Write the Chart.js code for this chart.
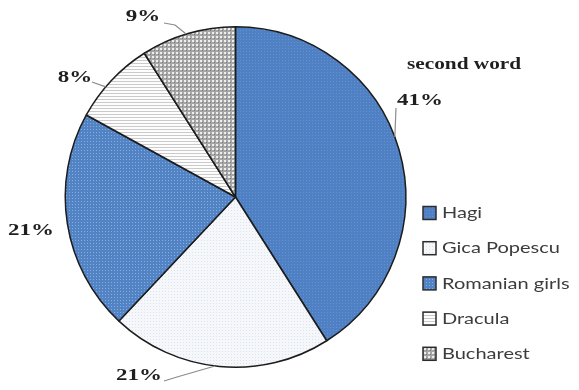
<!DOCTYPE html>
<html>
<head>
<meta charset="utf-8">
<script src="https://cdn.jsdelivr.net/npm/chart.js@4"></script>
<style>
  html, body { margin: 0; padding: 0; background: #fff; }
  #wrap { width: 579px; height: 390px; }
</style>
</head>
<body>
<div id="wrap"><canvas id="chart" width="579" height="390"></canvas></div>
<script>
// answers for the second word
const categories = ['Hagi', 'Gica Popescu', 'Romanian girls', 'Dracula', 'Bucharest'];
const shares = [41, 21, 21, 8, 9];
const chartTitle = 'second word';

// small tile patterns, one per slice
function tile(size, paint) {
    const c = document.createElement('canvas');
    c.width = size; c.height = size;
    const g = c.getContext('2d');
    paint(g, size);
    return g.createPattern(c, 'repeat');
}
const dots = (bg, fg, step, dot) => tile(step, (g, s) => {
    g.fillStyle = bg; g.fillRect(0, 0, s, s);
    g.fillStyle = fg; g.fillRect(0, 0, dot, dot);
});
const fills = [
    dots('#4f80c3', '#6593d0', 3, 1),
    dots('#f5f7fb', '#dde3ec', 3, 1),
    dots('#5284c5', '#8aacdc', 3, 1),
    tile(3, (g, s) => { g.fillStyle = '#fdfdfd'; g.fillRect(0, 0, s, s); g.fillStyle = '#cacaca'; g.fillRect(0, 0, s, 1); }),
    tile(4, (g, s) => {
        g.fillStyle = '#a6a6a6'; g.fillRect(0, 0, s, s);
        g.fillStyle = '#eeeeee'; g.fillRect(0, 0, 2, 2);
        g.fillStyle = '#7a7a7a'; g.fillRect(2, 2, 1, 1);
    })
];

// where each percentage sits, and which part of its slice the leader touches
const labelSpots = [
    { x: 420, y: 101, along: 0.47, lead: [[396, 108]] },
    { x: 139, y: 376, along: 0.52, lead: [[177, 377], [164, 381]] },
    { x: 31, y: 231, along: 0.5, lead: null },
    { x: 75, y: 78, along: 0.4, lead: [[92, 82]] },
    { x: 143, y: 17, along: 0.48, lead: [[175, 25], [164, 23]] }
];

function stretchText(ctx, text, x, y, sx, align) {
    ctx.save();
    ctx.translate(x, y);
    ctx.scale(sx, 1);
    ctx.textAlign = align;
    ctx.fillText(text, 0, 0);
    ctx.restore();
}

const decorations = {
    id: 'decorations',
    afterDatasetsDraw(chart) {
        const ctx = chart.ctx;
        const arcs = chart.getDatasetMeta(0).data;

        // leader lines
        ctx.save();
        ctx.strokeStyle = '#8c8c8c';
        ctx.lineWidth = 1.2;
        arcs.forEach((arc, i) => {
            const spot = labelSpots[i];
            if (!spot.lead) return;
            const a = arc.startAngle + (arc.endAngle - arc.startAngle) * spot.along;
            ctx.beginPath();
            ctx.moveTo(arc.x + Math.cos(a) * arc.outerRadius, arc.y + Math.sin(a) * arc.outerRadius);
            spot.lead.forEach(p => ctx.lineTo(p[0], p[1]));
            ctx.stroke();
        });
        ctx.restore();

        // percentages and title
        ctx.save();
        ctx.fillStyle = '#1f1f1f';
        ctx.textBaseline = 'middle';
        ctx.font = 'bold 17px "Liberation Serif", serif';
        shares.forEach((v, i) => {
            stretchText(ctx, v + '%', labelSpots[i].x, labelSpots[i].y, 1.35, 'center');
        });
        ctx.font = 'bold 16px "Liberation Serif", serif';
        stretchText(ctx, chartTitle, 407, 65, 1.33, 'left');
        ctx.restore();

        // legend
        ctx.save();
        ctx.textBaseline = 'middle';
        ctx.font = '16px Lato, sans-serif';
        categories.forEach((name, i) => {
            const y = 213 + i * 35.2;
            ctx.fillStyle = fills[i];
            ctx.fillRect(423, y - 6.5, 13, 13);
            ctx.strokeStyle = '#2b2b2b';
            ctx.lineWidth = 1.5;
            ctx.strokeRect(423, y - 6.5, 13, 13);
            ctx.fillStyle = '#3c3c3c';
            stretchText(ctx, name, 442, y, 1.25, 'left');
        });
        ctx.restore();
    }
};

new Chart(document.getElementById('chart'), {
    type: 'pie',
    data: {
        labels: categories,
        datasets: [{
            data: shares,
            backgroundColor: fills,
            borderColor: '#1c1c1c',
            borderWidth: 1.5,
            hoverOffset: 0
        }]
    },
    options: {
        responsive: false,
        animation: false,
        layout: { padding: { left: 64, top: 26, right: 172, bottom: 22 } },
        plugins: {
            legend: { display: false },
            tooltip: { enabled: false }
        }
    },
    plugins: [decorations]
});
</script>
</body>
</html>
